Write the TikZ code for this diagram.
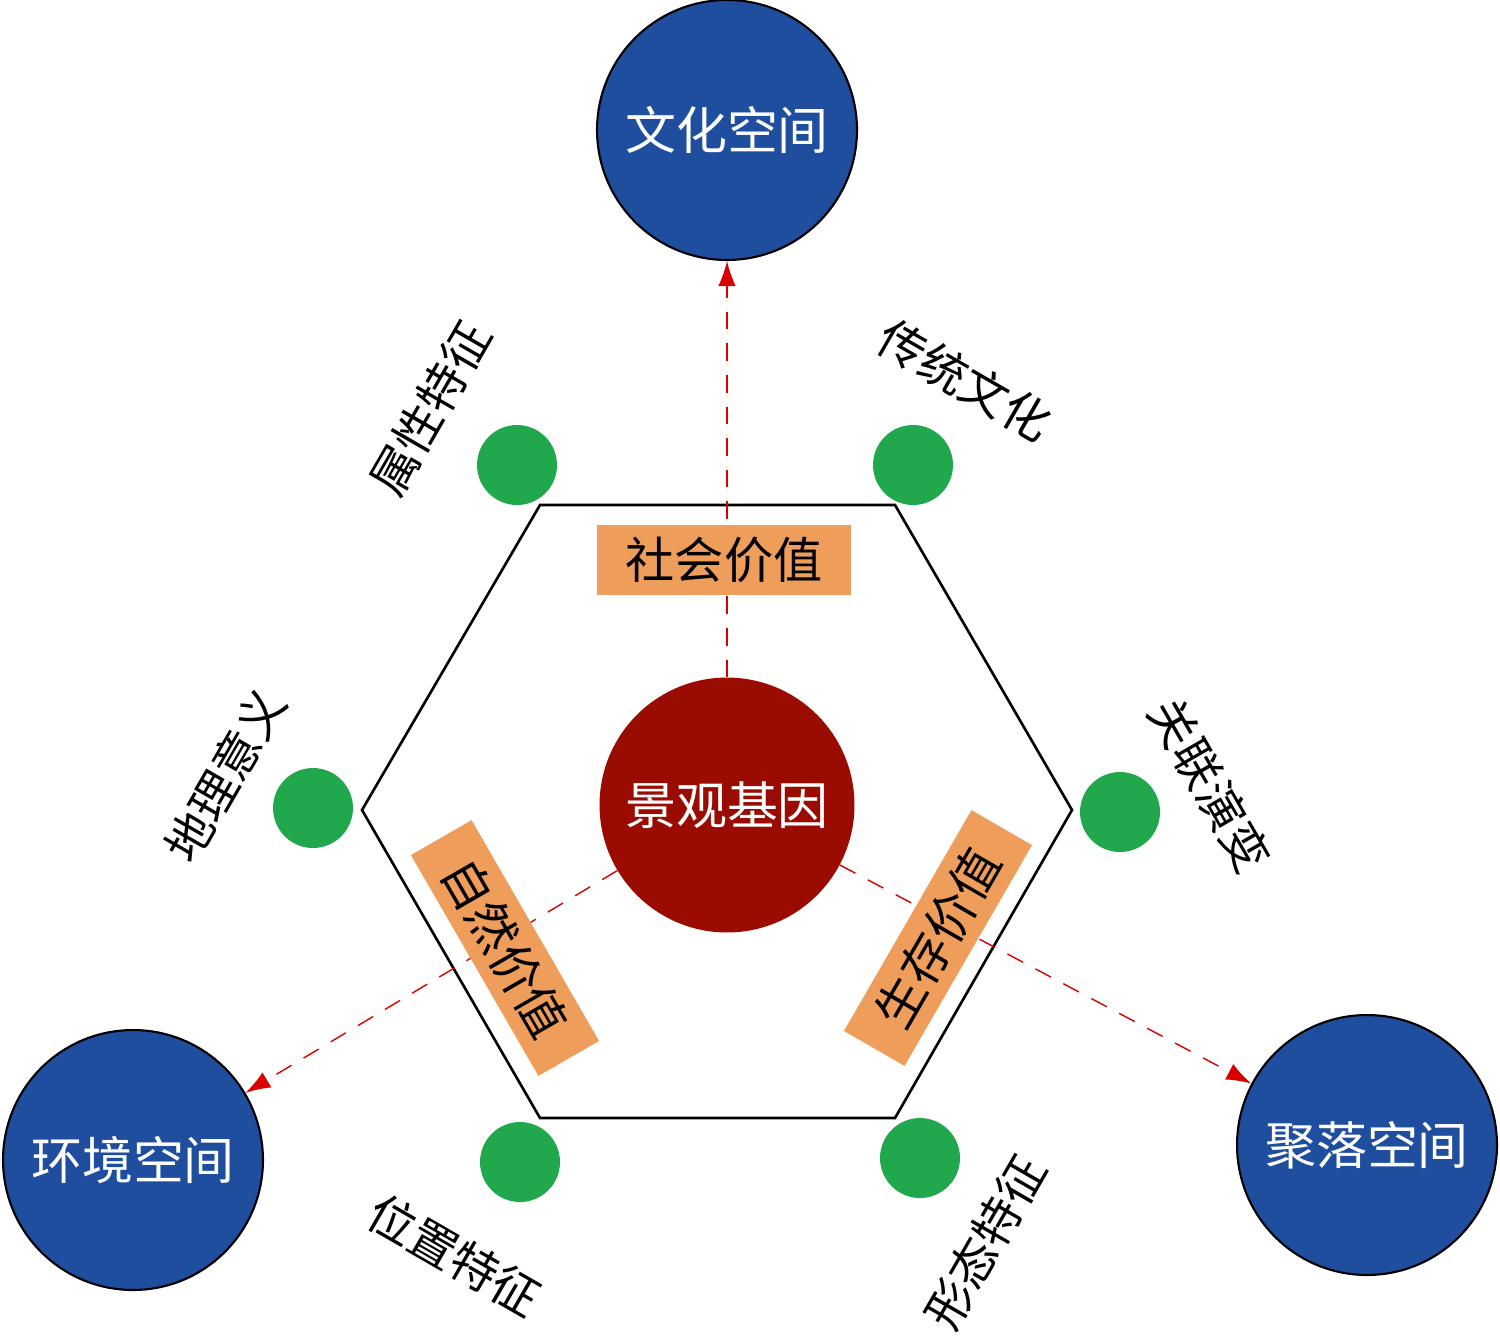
\documentclass[tikz,border=0pt]{standalone}
\usepackage{fontspec}
\setmainfont{Noto Sans CJK SC}
\usetikzlibrary{positioning, arrows.meta}
\definecolor{spaceblue}{HTML}{1F4E9E}
\definecolor{genered}{HTML}{9A0C02}
\definecolor{dotgreen}{HTML}{21A84C}
\definecolor{valorange}{HTML}{EE9E5A}
\tikzset{space/.style={circle,draw,line width=1.2pt,fill=spaceblue,text=white,minimum size=5.2cm,font=\fontsize{29}{32}\selectfont},
         dot/.style={circle,fill=dotgreen,minimum size=1.6cm},
         value/.style={fill=valorange,minimum width=5.1cm,minimum height=1.4cm,font=\fontsize{28}{30}\selectfont},
         feat/.style={font=\fontsize{27}{30}\selectfont},
         link/.style={red!85!black,thick,dashed,dash pattern=on 10pt off 8pt,-{Latex[length=5mm,width=3.5mm]}},
        }
\begin{document}
\begin{tikzpicture}[x=0.02cm,y=-0.02cm]
        \useasboundingbox (0,0) rectangle (1500,1340);
        \draw[line width=1.5pt](540,505)--(895,505)--(1072,810)--(895,1118)--(540,1118)--(362,810)--cycle;

        \node[space](culture)at(727,130){文化空间};
        \node[space](env)at(133,1160){环境空间};
        \node[space](settle)at(1367,1145){聚落空间};
        \node[circle,fill=genered,text=white,minimum size=5.1cm,font=\fontsize{29}{32}\selectfont](gene)at(727,805){景观基因};

        \draw[link](gene)--(culture);
        \draw[link](gene)--(env);
        \draw[link](gene)--(settle);

        \node[value](social)at(724,560){社会价值};
        \node[value,rotate=-60](natural)at(505,948){自然价值};
        \node[value,rotate=60](survive)at(938,938){生存价值};

        \node[dot](d1)at(517,465){};
        \node[dot](d2)at(913,465){};
        \node[dot](d3)at(313,808){};
        \node[dot](d4)at(1120,812){};
        \node[dot](d5)at(520,1162){};
        \node[dot](d6)at(920,1158){};

        \node[feat,rotate=60](f1)at(430,408){属性特征};
        \node[feat,rotate=-30](f2)at(965,380){传统文化};
        \node[feat,rotate=60](f3)at(225,775){地理意义};
        \node[feat,rotate=-60](f4)at(1210,785){关联演变};
        \node[feat,rotate=-30](f5)at(455,1255){位置特征};
        \node[feat,rotate=60](f6)at(985,1242){形态特征};
    \end{tikzpicture}
\end{document}
